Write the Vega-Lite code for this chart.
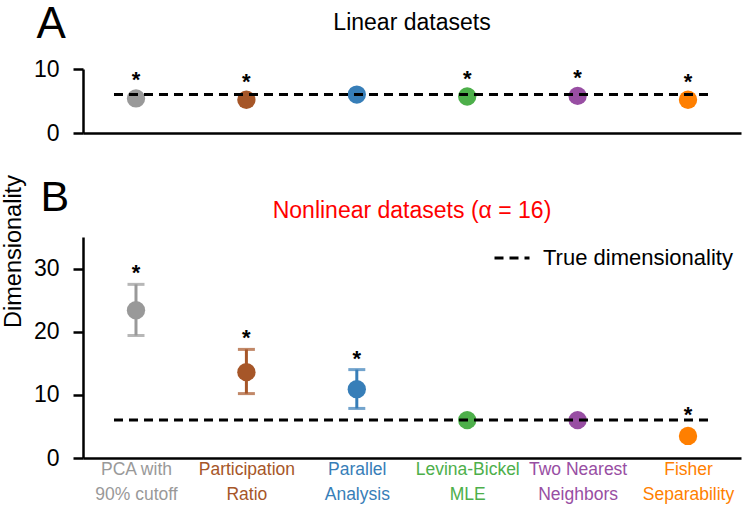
{
  "$schema": "https://vega.github.io/schema/vega-lite/v6.json",
  "padding": {"left": 0, "top": 2, "right": 5, "bottom": 5},
  "datasets": {
    "methods": [
      {"panel": "A", "method": "PCA with|90% cutoff", "dim": 5.4, "sig": "*"},
      {"panel": "A", "method": "Participation|Ratio", "dim": 5.2, "sig": "*"},
      {"panel": "A", "method": "Parallel|Analysis", "dim": 6.0, "sig": ""},
      {"panel": "A", "method": "Levina-Bickel|MLE", "dim": 5.7, "sig": "*"},
      {"panel": "A", "method": "Two Nearest|Neighbors", "dim": 5.8, "sig": "*"},
      {"panel": "A", "method": "Fisher|Separability", "dim": 5.2, "sig": "*"},
      {"panel": "B", "method": "PCA with|90% cutoff", "dim": 23.4, "lo": 19.4, "hi": 27.5, "sig": "*"},
      {"panel": "B", "method": "Participation|Ratio", "dim": 13.6, "lo": 10.2, "hi": 17.2, "sig": "*"},
      {"panel": "B", "method": "Parallel|Analysis", "dim": 10.9, "lo": 7.85, "hi": 14.0, "sig": "*"},
      {"panel": "B", "method": "Levina-Bickel|MLE", "dim": 6.0, "lo": null, "hi": null, "sig": ""},
      {"panel": "B", "method": "Two Nearest|Neighbors", "dim": 6.0, "lo": null, "hi": null, "sig": ""},
      {"panel": "B", "method": "Fisher|Separability", "dim": 3.5, "lo": 2.0, "hi": 5.0, "sig": "*"}
    ],
    "truth": [
      {"panel": "A", "dim": 6, "label": "True dimensionality", "first": "PCA with|90% cutoff", "last": "Fisher|Separability"},
      {"panel": "B", "dim": 6, "label": "True dimensionality", "first": "PCA with|90% cutoff", "last": "Fisher|Separability"}
    ]
  },
  "config": {
    "font": "Liberation Sans",
    "view": {"stroke": null},
    "axis": {
      "grid": false,
      "domainColor": "black",
      "tickColor": "black",
      "labelColor": "black",
      "titleColor": "black",
      "domainWidth": 2.5,
      "tickWidth": 2.5,
      "labelFont": "Liberation Sans",
      "titleFont": "Liberation Sans",
      "titleFontWeight": "normal"
    },
    "title": {"font": "Liberation Sans", "fontWeight": "normal"}
  },
  "spacing": 104,
  "bounds": "flush",
  "resolve": {"scale": {"y": "independent"}, "legend": {"strokeDash": "independent"}},
  "vconcat": [
    {
      "width": 658,
      "height": 64,
      "title": {"text": "Linear datasets", "fontSize": 23, "anchor": "middle", "frame": "group", "offset": -32.5, "color": "black"},
      "layer": [
        {
          "data": {"name": "methods"},
          "transform": [{"filter": "datum.panel === 'A'"}],
          "mark": {"type": "circle", "size": 336, "opacity": 1},
          "encoding": {
            "x": {
              "field": "method", "type": "nominal",
              "scale": {"type": "point", "padding": 0.48, "domain": ["PCA with|90% cutoff", "Participation|Ratio", "Parallel|Analysis", "Levina-Bickel|MLE", "Two Nearest|Neighbors", "Fisher|Separability"]},
              "axis": {"labels": false, "ticks": false, "title": null, "domainWidth": 2.5}
            },
            "y": {
              "field": "dim", "type": "quantitative",
              "scale": {"domain": [0, 10], "nice": false, "zero": true},
              "axis": {
                "values": [0, 5, 10],
                "labelExpr": "datum.value % 10 === 0 ? datum.label : ''",
                "tickSize": {"condition": {"test": "datum.value % 10 === 0", "value": 10}, "value": 5},
                "labelFontSize": 23,
                "labelPadding": 14,
                "title": "A",
                "titleAngle": 0,
                "titleFontSize": 44,
                "titleAlign": "left",
                "titleBaseline": "alphabetic",
                "titleX": -47,
                "titleY": -31.5
              }
            },
            "color": {
              "field": "method", "type": "nominal", "legend": null,
              "scale": {"domain": ["PCA with|90% cutoff", "Participation|Ratio", "Parallel|Analysis", "Levina-Bickel|MLE", "Two Nearest|Neighbors", "Fisher|Separability"], "range": ["#999999", "#a65628", "#377eb8", "#4daf4a", "#984ea3", "#ff7f00"]}
            }
          }
        },
        {
          "data": {"name": "truth"},
          "transform": [{"filter": "datum.panel === 'A'"}],
          "mark": {"type": "rule", "strokeWidth": 3, "strokeDash": [9, 6], "color": "black", "xOffset": -22, "x2Offset": 22},
          "encoding": {
            "x": {"field": "first", "type": "nominal"},
            "x2": {"field": "last"},
            "y": {"field": "dim", "type": "quantitative"}
          }
        },
        {
          "data": {"name": "methods"},
          "transform": [{"filter": "datum.panel === 'A'"}],
          "mark": {"type": "text", "fontSize": 22, "fontWeight": "bold", "align": "center", "baseline": "alphabetic", "dy": -11, "color": "black"},
          "encoding": {
            "x": {"field": "method", "type": "nominal"},
            "y": {"field": "dim", "type": "quantitative"},
            "text": {"field": "sig"}
          }
        }
      ]
    },
    {
      "width": 658,
      "height": 221,
      "title": {"text": "Nonlinear datasets (α = 16)", "fontSize": 23, "anchor": "middle", "frame": "group", "offset": -48, "color": "#ff0000"},
      "layer": [
        {
          "data": {"name": "methods"},
          "transform": [{"filter": "datum.panel === 'B' && datum.hi != null && datum.hi - datum.dim > 2.5"}],
          "mark": {"type": "rule", "strokeWidth": 3},
          "encoding": {
            "x": {"field": "method", "type": "nominal"},
            "y": {"field": "lo", "type": "quantitative"},
            "y2": {"field": "hi"},
            "color": {"field": "method", "type": "nominal", "legend": null}
          }
        },
        {
          "data": {"name": "methods"},
          "transform": [{"filter": "datum.panel === 'B' && datum.hi != null && datum.hi - datum.dim > 2.5"}],
          "mark": {"type": "tick", "orient": "horizontal", "size": 17, "thickness": 3},
          "encoding": {
            "x": {"field": "method", "type": "nominal"},
            "y": {"field": "lo", "type": "quantitative"},
            "color": {"field": "method", "type": "nominal", "legend": null}
          }
        },
        {
          "data": {"name": "methods"},
          "transform": [{"filter": "datum.panel === 'B' && datum.hi != null && datum.hi - datum.dim > 2.5"}],
          "mark": {"type": "tick", "orient": "horizontal", "size": 17, "thickness": 3},
          "encoding": {
            "x": {"field": "method", "type": "nominal"},
            "y": {"field": "hi", "type": "quantitative"},
            "color": {"field": "method", "type": "nominal", "legend": null}
          }
        },
        {
          "data": {"name": "methods"},
          "transform": [{"filter": "datum.panel === 'B'"}],
          "mark": {"type": "circle", "size": 336, "opacity": 1},
          "encoding": {
            "x": {
              "field": "method", "type": "nominal",
              "scale": {"type": "point", "padding": 0.48, "domain": ["PCA with|90% cutoff", "Participation|Ratio", "Parallel|Analysis", "Levina-Bickel|MLE", "Two Nearest|Neighbors", "Fisher|Separability"]},
              "axis": {
                "labelExpr": "split(datum.label, '|')",
                "labelFontSize": 17.5,
                "labelColor": {"expr": "['#999999', '#a65628', '#377eb8', '#4daf4a', '#984ea3', '#ff7f00'][indexof(['PCA with|90% cutoff', 'Participation|Ratio', 'Parallel|Analysis', 'Levina-Bickel|MLE', 'Two Nearest|Neighbors', 'Fisher|Separability'], datum.value)]"},
                "labelAngle": 0,
                "labelAlign": "center",
                "labelPadding": 2,
                "labelLineHeight": 25,
                "labelBaseline": "top",
                "labelOverlap": false,
                "ticks": false,
                "title": "B",
                "titleAngle": 0,
                "titleFontSize": 43,
                "titleAlign": "left",
                "titleBaseline": "alphabetic",
                "titleX": -43,
                "titleY": -247.3
              }
            },
            "y": {
              "field": "dim", "type": "quantitative",
              "scale": {"domain": [0, 35], "nice": false, "zero": true},
              "axis": {
                "values": [0, 5, 10, 15, 20, 25, 30],
                "labelExpr": "datum.value % 10 === 0 ? datum.label : ''",
                "tickSize": {"condition": {"test": "datum.value % 10 === 0", "value": 10}, "value": 5},
                "labelFontSize": 23,
                "labelPadding": 14,
                "title": "Dimensionality",
                "titleFontSize": 23.5,
                "titleAngle": -90,
                "titleAlign": "center",
                "titleBaseline": "middle",
                "titleX": -70,
                "titleY": 14
              }
            },
            "color": {"field": "method", "type": "nominal", "legend": null}
          }
        },
        {
          "data": {"name": "truth"},
          "transform": [{"filter": "datum.panel === 'B'"}],
          "mark": {"type": "rule", "strokeWidth": 3, "color": "black", "xOffset": -22, "x2Offset": 22},
          "encoding": {
            "x": {"field": "first", "type": "nominal"},
            "x2": {"field": "last"},
            "y": {"field": "dim", "type": "quantitative"},
            "strokeDash": {
              "field": "label", "type": "nominal",
              "scale": {"range": [[9, 6]]},
              "legend": {
                "orient": "none", "legendX": 410, "legendY": 2, "title": null,
                "symbolType": "stroke", "symbolSize": 1225, "symbolStrokeWidth": 3, "symbolStrokeColor": "black",
                "labelFontSize": 22, "labelOffset": 12, "labelColor": "black", "labelFont": "Liberation Sans", "labelLimit": 400
              }
            }
          }
        },
        {
          "data": {"name": "methods"},
          "transform": [{"filter": "datum.panel === 'B' && datum.hi != null"}],
          "mark": {"type": "text", "fontSize": 22, "fontWeight": "bold", "align": "center", "baseline": "alphabetic", "dy": -4, "color": "black"},
          "encoding": {
            "x": {"field": "method", "type": "nominal"},
            "y": {"field": "hi", "type": "quantitative"},
            "text": {"field": "sig"}
          }
        }
      ]
    }
  ]
}
